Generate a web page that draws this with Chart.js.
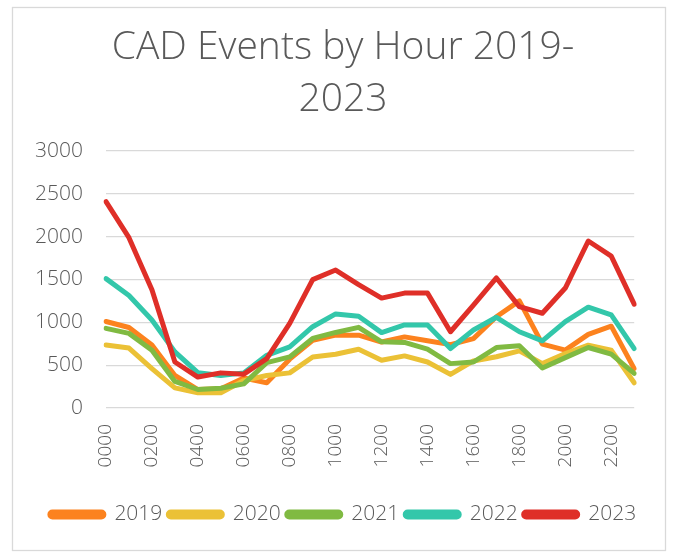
<!DOCTYPE html>
<html>
<head>
<meta charset="utf-8">
<script src="https://cdn.jsdelivr.net/npm/chart.js@4.4.1/dist/chart.umd.min.js"></script>
<style>
  html, body { margin: 0; padding: 0; background: #ffffff; }
  #wrap { position: absolute; left: 0; top: 0; width: 673px; height: 554px; }
</style>
</head>
<body>
<div id="wrap"><canvas id="c" width="673" height="554"></canvas></div>
<script>
const hours = ['0000','0100','0200','0300','0400','0500','0600','0700','0800','0900','1000','1100',
               '1200','1300','1400','1500','1600','1700','1800','1900','2000','2100','2200','2300'];
const years = ['2019', '2020', '2021', '2022', '2023'];
const events2019 = [1010, 940, 735, 380, 215, 225, 350, 295, 570, 790, 850, 850, 770, 830, 785, 740, 810, 1065, 1250, 745, 675, 860, 955, 460];
const events2020 = [735, 700, 460, 235, 178, 178, 320, 380, 410, 596, 628, 686, 557, 608, 537, 392, 549, 598, 667, 518, 635, 733, 675, 294];
const events2021 = [930, 871, 675, 310, 216, 231, 282, 529, 596, 812, 882, 941, 773, 765, 686, 518, 537, 706, 726, 467, 588, 706, 628, 405];
const events2022 = [1510, 1314, 1028, 655, 412, 380, 410, 615, 714, 949, 1098, 1071, 880, 969, 969, 694, 910, 1059, 890, 784, 1008, 1177, 1086, 694];
const events2023 = [2408, 1988, 1380, 537, 361, 410, 395, 576, 988, 1498, 1610, 1440, 1283, 1341, 1341, 890, 1200, 1518, 1184, 1106, 1400, 1949, 1773, 1212];
const yTicks = [0, 500, 1000, 1500, 2000, 2500, 3000];

const series = [events2019, events2020, events2021, events2022, events2023];
const colors = ['#FC821E', '#EBC136', '#80BA42', '#33C7AA', '#DF2F28'];
const FONT = '"Open Sans", Roboto, sans-serif';
const TXT = '#595959';

const borderPlugin = {
  id: 'frame',
  beforeDraw(chart) {
    const ctx = chart.ctx;
    ctx.save();
    ctx.fillStyle = '#ffffff';
    ctx.fillRect(0, 0, chart.width, chart.height);
    ctx.strokeStyle = '#d9d9d9';
    ctx.lineWidth = 1.3;
    ctx.strokeRect(12.5, 7.5, 653, 543);
    ctx.restore();
  }
};

new Chart(document.getElementById('c'), {
  type: 'line',
  data: {
    labels: hours,
    datasets: years.map((y, i) => ({
      label: y,
      data: series[i],
      borderColor: colors[i],
      backgroundColor: colors[i],
      borderWidth: 5,
      pointRadius: 0,
      pointHoverRadius: 0,
      tension: 0,
      borderCapStyle: 'round',
      borderJoinStyle: 'round',
      order: years.length - i,
      fill: false
    }))
  },
  plugins: [borderPlugin],
  options: {
    responsive: false,
    animation: false,
    devicePixelRatio: 1,
    layout: { padding: { left: 30, right: 17, top: 10, bottom: 19 } },
    plugins: {
      tooltip: { enabled: false },
      title: {
        display: true,
        text: ['CAD Events by Hour 2019-', '2023'],
        color: TXT,
        font: { family: FONT, size: 39, weight: 300, lineHeight: 1.333 },
        padding: { top: 12, bottom: 25 }
      },
      legend: {
        position: 'bottom',
        labels: {
          color: TXT,
          font: { family: FONT, size: 21, weight: 300 },
          boxWidth: 54,
          boxHeight: 5,
          useBorderRadius: true,
          borderRadius: 2.5,
          padding: 6,
          sort: (a, b) => a.datasetIndex - b.datasetIndex
        }
      }
    },
    scales: {
      x: {
        grid: { display: false, drawTicks: false },
        border: { display: false },
        ticks: {
          color: TXT,
          font: { family: FONT, size: 19, weight: 300 },
          minRotation: 90,
          maxRotation: 90,
          autoSkip: false,
          padding: 16,
          callback: function(v, i) { return i % 2 === 0 ? hours[i] : ''; }
        },
        afterFit(scale) { scale.height = 90; }
      },
      y: {
        min: 0,
        max: 3000,
        afterBuildTicks(scale) { scale.ticks = yTicks.map(v => ({ value: v })); },
        grid: { color: '#d9d9d9', lineWidth: 1.3, drawTicks: false },
        border: { display: false },
        ticks: {
          color: TXT,
          font: { family: FONT, size: 21, weight: 300 },
          padding: 23,
          callback: (v) => String(v)
        },
        afterFit(scale) { scale.width = 76; }
      },
      yPad: {
        position: 'right',
        display: true,
        grid: { display: false, drawTicks: false },
        border: { display: false },
        ticks: { display: false },
        afterFit(scale) { scale.width = 15; }
      }
    }
  }
});
</script>
</body>
</html>
